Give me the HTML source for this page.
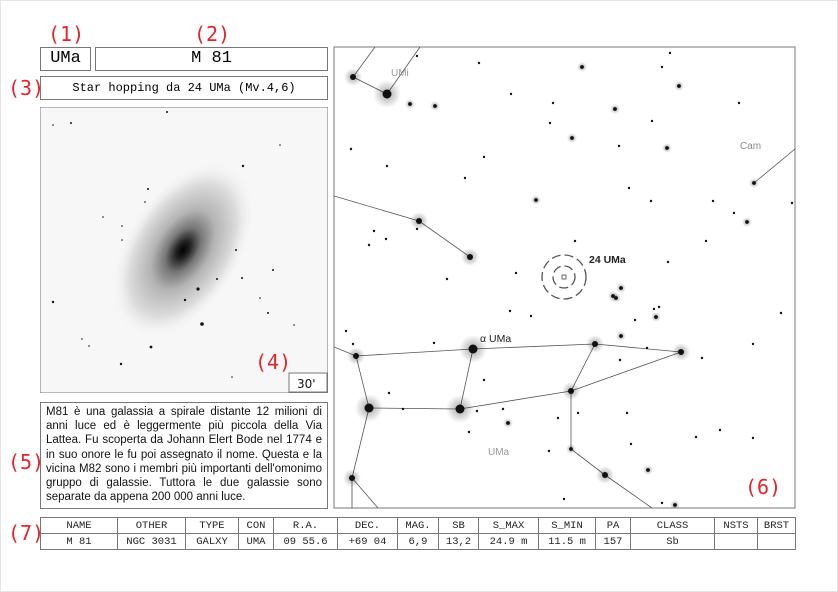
<!DOCTYPE html>
<html><head><meta charset="utf-8"><style>
html,body{margin:0;padding:0;background:#fff;}
body{width:838px;height:592px;overflow:hidden;position:relative;font-family:"Liberation Sans",sans-serif;}
.box{position:absolute;border:1px solid #777;box-sizing:border-box;background:#fff;}
.mono{font-family:"Liberation Mono","DejaVu Sans Mono",monospace;}
.red{position:absolute;color:#e0262b;font-family:"DejaVu Sans Mono","Liberation Mono",monospace;font-size:20px;line-height:20px;}
table{border-collapse:collapse;position:absolute;left:40px;top:517px;width:756px;font-family:"Liberation Mono","DejaVu Sans Mono",monospace;font-size:10.5px;}
td{border:1px solid #777;text-align:center;height:15px;padding:0;color:#222;}
#desc{position:absolute;left:40px;top:402px;width:288px;height:107px;padding:2px 5px;box-sizing:border-box;font-family:"Liberation Sans",sans-serif;font-size:11.5px;line-height:14.2px;text-align:justify;color:#111;overflow:hidden;}
</style></head><body>
<div style="position:absolute;left:0;top:0;width:836px;height:590px;border:1px solid #e4e4e4;"></div>
<div class="red" style="left:48px;top:24px">(1)</div>
<div class="red" style="left:194px;top:24px">(2)</div>
<div class="red" style="left:8px;top:78px">(3)</div>
<div class="red" style="left:8px;top:452px">(5)</div>
<div class="red" style="left:8px;top:523px">(7)</div>
<div class="box mono" style="left:40px;top:47px;width:51px;height:24px;font-size:17px;line-height:22px;text-align:center">UMa</div>
<div class="box mono" style="left:95px;top:47px;width:233px;height:24px;font-size:17px;line-height:22px;text-align:center">M 81</div>
<div class="box mono" style="left:40px;top:76px;width:288px;height:24px;font-size:12px;line-height:22px;text-align:center">Star hopping da 24 UMa (Mv.4,6)</div>

<svg style="position:absolute;left:40px;top:107px" width="288" height="286">
<defs>
<radialGradient id="gal" cx="0.5" cy="0.5" r="0.5">
<stop offset="0" stop-color="#000"/><stop offset="0.1" stop-color="#222"/><stop offset="0.25" stop-color="#777"/><stop offset="0.45" stop-color="#b4b4b4"/><stop offset="0.75" stop-color="#dcdcdc"/><stop offset="1" stop-color="#f7f7f7" stop-opacity="0"/>
</radialGradient>
</defs>
<rect width="288" height="286" fill="#f7f7f7" stroke="#777"/>
<ellipse cx="143" cy="143" rx="58" ry="98" fill="url(#gal)" transform="rotate(32 143 143)"/>
<g id="pstars" fill="#111"></g>
<text x="215" y="262" fill="#e0262b" font-family="DejaVu Sans Mono, monospace" font-size="20">(4)</text>
<rect x="249" y="266" width="38" height="19" fill="#fff" stroke="#777"/>
<text x="257" y="281" font-family="DejaVu Sans, sans-serif" font-size="12" fill="#111">30'</text>
</svg>

<div class="box" id="desc">M81 è una galassia a spirale distante 12 milioni di anni luce ed è leggermente più piccola della Via Lattea. Fu scoperta da Johann Elert Bode nel 1774 e in suo onore le fu poi assegnato il nome. Questa e la vicina M82 sono i membri più importanti dell'omonimo gruppo di galassie. Tuttora le due galassie sono separate da appena 200 000 anni luce.</div>

<svg id="map" style="position:absolute;left:0;top:0" width="838" height="592">
<defs>
<radialGradient id="glow"><stop offset="0" stop-color="#000" stop-opacity="0.35"/><stop offset="1" stop-color="#000" stop-opacity="0"/></radialGradient>
<clipPath id="mc"><rect x="334" y="47" width="461" height="461"/></clipPath>
</defs>
<rect x="334" y="47" width="461" height="461" fill="#fff" stroke="#777"/>
<g clip-path="url(#mc)">
<g id="lines" stroke="#555" stroke-width="0.8"></g>
<g id="stars"></g>
<g stroke="#555" stroke-width="1.3" fill="none" stroke-dasharray="9 4">
<circle cx="564" cy="277" r="22"/>
<circle cx="564" cy="277" r="11"/>
</g>
<rect x="562" y="275" width="4" height="4" fill="none" stroke="#444" stroke-width="0.8"/>
<text x="391" y="76" font-size="10" fill="#999">UMi</text>
<text x="740" y="149" font-size="10" fill="#888">Cam</text>
<text x="488" y="455" font-size="10" fill="#999">UMa</text>
<text x="480" y="342" font-size="10.5" fill="#222">α UMa</text>
<text x="589" y="263" font-size="10.5" font-weight="bold" fill="#222">24 UMa</text>
<text x="745" y="494" fill="#e0262b" font-family="DejaVu Sans Mono, monospace" font-size="20">(6)</text>
</g>
</svg>

<table>
<tr><td style="width:76px">NAME</td><td style="width:67px">OTHER</td><td style="width:52px">TYPE</td><td style="width:34px">CON</td><td style="width:63px">R.A.</td><td style="width:59px">DEC.</td><td style="width:40px">MAG.</td><td style="width:39px">SB</td><td style="width:59px">S_MAX</td><td style="width:56px">S_MIN</td><td style="width:34px">PA</td><td style="width:83px">CLASS</td><td style="width:42px">NSTS</td><td>BRST</td></tr>
<tr><td>M 81</td><td>NGC 3031</td><td>GALXY</td><td>UMA</td><td>09 55.6</td><td>+69 04</td><td>6,9</td><td>13,2</td><td>24.9 m</td><td>11.5 m</td><td>157</td><td>Sb</td><td></td><td></td></tr>
</table>

<script>
const starX=[353,387,410,435,417,479,582,662,670,679,511,553,615,739,652,550,572,619,667,351,484,387,465,754,629,536,651,713,734,747,792,419,417,374,386,369,470,706,575,668,516,447,621,613,616,510,531,659,654,656,635,781,346,353,434,621,473,356,595,647,681,753,620,702,484,389,571,369,403,460,477,503,508,558,578,627,469,696,720,753,631,549,571,352,648,605,564,662,675];
const starY=[77,94,104,106,56,63,67,67,53,86,94,103,109,103,121,123,138,146,148,149,157,166,178,183,188,200,201,201,213,222,203,221,229,231,239,245,257,241,241,262,273,279,288,296,298,311,316,307,309,317,320,313,331,344,343,336,349,356,344,348,352,344,360,358,380,393,391,408,409,409,411,409,423,418,413,413,432,437,430,438,444,451,449,478,470,475,499,503,505];
const starMag=[3,4,2,2,1,1,2,1,1,2,1,1,2,1,1,1,2,1,2,1,1,1,1,2,1,2,1,1,1,2,1,3,1,1,1,1,3,1,1,1,1,1,2,2,2,1,1,1,1,2,1,1,1,1,1,2,4,3,3,1,3,1,1,1,1,1,3,4,1,4,1,1,2,1,1,1,1,1,1,1,1,1,2,3,2,3,1,1,2];
const lineFrom=[[353,77],[353,77],[387,94],[334,196],[419,221],[754,183],[334,347],[356,356],[473,349],[595,344],[356,356],[473,349],[369,408],[460,409],[571,391],[595,344],[571,391],[571,449],[605,475],[369,408],[352,478],[352,478]];
const lineTo=[[387,94],[375,47],[420,47],[419,221],[470,257],[795,149],[356,356],[473,349],[595,344],[681,352],[369,408],[460,409],[460,409],[571,391],[681,352],[571,391],[571,449],[605,475],[652,508],[352,478],[352,508],[378,508]];
const NS='http://www.w3.org/2000/svg';
const lg=document.getElementById('lines');
for(let i=0;i<lineFrom.length;i++){
 const l=document.createElementNS(NS,'line');
 
 
 l.setAttribute('x1',lineFrom[i][0]);l.setAttribute('y1',lineFrom[i][1]);
 l.setAttribute('x2',lineTo[i][0]);l.setAttribute('y2',lineTo[i][1]);
 lg.appendChild(l);
}
const sg=document.getElementById('stars');
for(let i=0;i<starX.length;i++){
 const m=starMag[i];
 if(m>=2){const g=document.createElementNS(NS,'circle');
  
  
  g.setAttribute('cx',starX[i]);g.setAttribute('cy',starY[i]);g.setAttribute('r',[0,0,5,9,14][m]);g.setAttribute('fill','url(#glow)');sg.appendChild(g);}
 const c=document.createElementNS(NS,'circle');
 
 
 c.setAttribute('cx',starX[i]);c.setAttribute('cy',starY[i]);c.setAttribute('r',[0,1.2,1.9,3,4.5][m]);c.setAttribute('fill','#111');
 sg.appendChild(c);
}
const psX=[127,31,13,240,203,108,82,82,196,145,233,202,177,158,162,111,13,42,254,228,220,81,49,192,63,105];
const psY=[5,16,18,38,59,82,119,133,143,193,163,171,172,182,217,240,195,232,218,206,191,257,239,270,110,95];
const psR=[1,1,0.8,0.8,1.2,1,0.8,0.8,1,1.2,1,1,1,1.6,1.8,1.4,1.2,0.8,0.8,1,0.8,1.2,0.8,0.8,0.8,0.8];
const pg=document.getElementById('pstars');
for(let i=0;i<psX.length;i++){
 const c=document.createElementNS(NS,'circle');
 
 
 c.setAttribute('cx',psX[i]);c.setAttribute('cy',psY[i]);c.setAttribute('r',psR[i]);
 pg.appendChild(c);
}
</script>
</body></html>
